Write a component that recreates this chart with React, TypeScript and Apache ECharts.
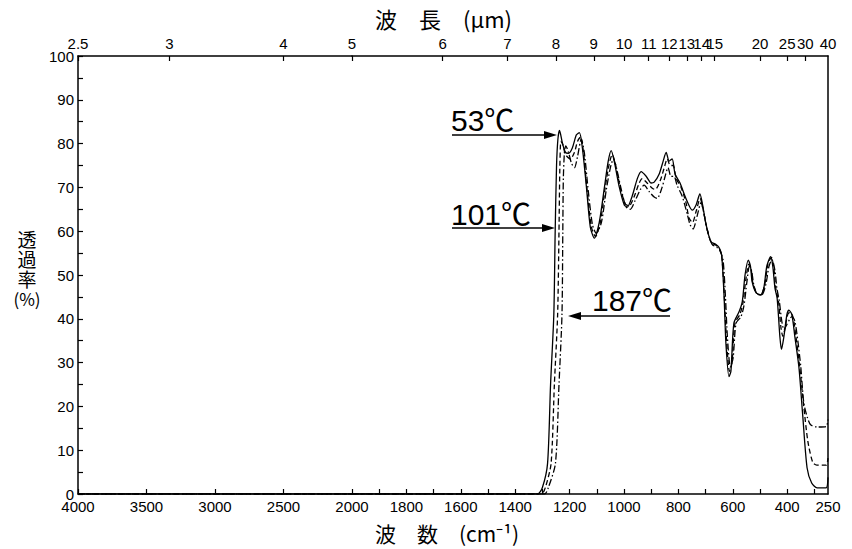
import React, { useEffect, useRef } from "react";
import * as echarts from "echarts";

// ---- data (wavenumber cm-1, transmittance %) ----
const baseWn = [4000, 2000];
const baseT = [0, 0];

const wn53 = [2000,1318,1300,1281,1270,1258,1253,1248,1243,1237,1226,1215,1204,1190,1175,1164,1153,1138,1124,1109,1091,1072,1058,1047,1036,1017,999,988,970,951,937,918,900,889,871,856,845,834,823,812,794,773,749,735,721,711,700,681,663,651,641,632,625,614,607,596,577,565,555,543,535,529,515,498,486,475,461,453,445,437,427,421,412,401,394,383,372,357,343,327,310,290,257,250];
const t53 = [0,0,1.5,7,25,41,60,75,81,83,80,78,77.8,79,82,82.5,79,70,61,58.4,62,70,76,78.4,76,70,66,65.5,68,72,73.6,72.5,71,71.2,73,76,78,76,76.5,73,71,67.6,64.8,66,68.5,66,62,57.6,57,56.3,54.5,45,34,26.8,28,39,41.6,44,50,53.4,52,48.5,46,45.4,47,52,54.2,52,47,44.7,36,33,36,41,42,41,36,29,18,6,2.5,1.4,1.4,3.8];

const wn101 = [2000,1304,1289,1268,1256,1244,1239,1236,1232,1226,1215,1197,1182,1171,1160,1149,1135,1120,1105,1087,1069,1054,1043,1032,1014,995,981,962,944,933,915,896,885,867,852,841,830,819,808,790,772,761,748,735,720,709,698,680,662,649,640,631,623,612,603,592,574,563,552,541,533,526,511,497,482,471,458,449,442,432,423,416,409,398,390,379,368,354,339,324,306,291,257,250];
const t101 = [0,0,1.5,7,25,41,60,74,80.5,80,77.5,76.5,78,80.5,81.5,78,69,61,58.8,62,70,75.5,77.5,75.5,70,66.2,65.8,68,71,72,71,69.8,69.5,71.5,74.5,76.5,75,75,72,70,66.5,63,62,64.5,67.5,65,61.5,57.5,56.8,56,54,45,35,28,30,39,41,43.5,49,52.5,51.5,48,45.8,45.5,48,52.5,54,51.5,47,44,38,36,37.5,41,41.5,40.5,36,29,20,12,7.2,6.6,6.6,8.2];

const wn187 = [2000,1292,1278,1252,1239,1228,1225,1223,1219,1214,1204,1193,1182,1171,1157,1146,1131,1116,1102,1083,1065,1050,1039,1028,1010,992,977,959,940,926,907,889,878,860,849,838,827,816,805,786,768,757,746,731,717,706,695,676,658,647,636,627,620,609,599,588,570,559,548,539,531,522,508,493,478,467,456,445,438,429,420,412,403,390,383,372,361,350,339,326,314,291,257,250];
const t187 = [0,0,1.5,7,25,41,60,72,78,79.5,78,75.5,74.5,77,81,78,69,61.5,59.5,62,69.5,74.5,76.5,74.5,69.5,65.5,65,67,69.5,70.5,69,67.8,67.5,70,72.5,74.5,72.5,72.5,70.5,68,64,61.5,60.5,63.5,66.5,64,60.5,57,56.3,55.5,53.5,45,36,29,31,39,40.5,43,48.5,52,51,47.5,45.5,45.5,48,52,53.5,51,47,44,39.5,37.5,38.5,40,40.5,39.5,35,29,20.8,17.5,15.8,15.3,15.4,17];

// ---- tick labels ----
const bottomTicksHigh = [4000, 3500, 3000, 2500, 2000];
const bottomTicksLow = [1900,1800,1700,1600,1500,1400,1300,1200,1100,1000,900,800,700,600,500,400,300];
const bottomLabelsLow = [1800,1600,1400,1200,1000,800,600,400,250];
const topLambdaHigh = [2.5, 3, 4, 5];
const topLambdaLow = [6,7,8,9,10,11,12,13,14,15,20,25,30,40];
const yTicks = [0,5,10,15,20,25,30,35,40,45,50,55,60,65,70,75,80,85,90,95,100];
const yLabels = [0,10,20,30,40,50,60,70,80,90,100];
const yTitleLines = ["透", "過", "率", "(%)"];

const zip = (a: number[], b: number[]) => a.slice(0, Math.min(a.length, b.length)).map((v, i) => [v, b[i]]);

const FONT = "Liberation Sans, Arial, Noto Sans CJK JP, sans-serif";
const CJK = "Noto Sans CJK JP, Liberation Sans, sans-serif";

export default function App() {
  const ref = useRef<HTMLDivElement>(null);
  useEffect(() => {
    const chart = echarts.init(ref.current!, null, { renderer: "svg" });
    const axisLine = { show: true, lineStyle: { color: "#000", width: 1.5 } };
    const tickStyle = { color: "#000", width: 1.2 };
    const lbl = { color: "#000", fontSize: 15, fontFamily: FONT, showMinLabel: true, showMaxLabel: true };
    const lamFmt = (v: number) => String(Math.round((10000 / v) * 10) / 10);

    const curveStyles = [
      { name: "53℃", wn: wn53, t: t53, type: "solid" as any },
      { name: "101℃", wn: wn101, t: t101, type: [5, 3] as any },
      { name: "187℃", wn: wn187, t: t187, type: [7, 2.5, 1.5, 2.5] as any },
    ];
    const series: any[] = [];
    curveStyles.forEach((c) => {
      series.push({
        name: c.name, type: "line", xAxisIndex: 0, yAxisIndex: 0, symbol: "none",
        data: zip(baseWn, baseT), lineStyle: { color: "#000", width: 1.3, type: c.type },
      });
      series.push({
        name: c.name, type: "line", xAxisIndex: 2, yAxisIndex: 1, symbol: "none", smooth: 0.25,
        data: zip(c.wn, c.t), lineStyle: { color: "#000", width: 1.3, type: c.type },
      });
    });

    const arrowR = (x1: number, x2: number, y: number) => [
      { type: "line", shape: { x1, y1: y, x2: x2 - 11, y2: y }, style: { stroke: "#000", lineWidth: 1.6 } },
      { type: "polygon", shape: { points: [[x2 - 13, y - 4], [x2, y], [x2 - 13, y + 4]] }, style: { fill: "#000" } },
    ];
    const arrowL = (x1: number, x2: number, y: number) => [
      { type: "line", shape: { x1, y1: y, x2: x2 + 11, y2: y }, style: { stroke: "#000", lineWidth: 1.6 } },
      { type: "polygon", shape: { points: [[x2 + 13, y - 4], [x2, y], [x2 + 13, y + 4]] }, style: { fill: "#000" } },
    ];
    const annText = (text: string, x: number, y: number) => ({
      type: "text", x, y,
      style: { text, fill: "#000", fontSize: 30, fontFamily: FONT, textAlign: "left", textVerticalAlign: "middle" },
    });
    const yTitle = yTitleLines.map((s, i) => ({
      type: "text", x: 27, y: 238 + i * 20,
      style: { text: s, fill: "#000", fontSize: i === 3 ? 17 : 19, fontFamily: CJK, textAlign: "center", textVerticalAlign: "middle" },
    }));

    chart.setOption({
      animation: false,
      backgroundColor: "#fff",
      grid: [
        { left: 78, right: 500, top: 56, bottom: 55, outerBoundsMode: "none" },
        { left: 352, right: 24, top: 56, bottom: 55, outerBoundsMode: "none" },
      ],
      xAxis: [
        {
          gridIndex: 0, type: "value", position: "bottom", min: 2000, max: 4000, inverse: true,
          axisLine, splitLine: { show: false },
          axisTick: { show: true, inside: true, length: 5, customValues: bottomTicksHigh, lineStyle: tickStyle },
          axisLabel: { ...lbl, margin: 5, customValues: bottomTicksHigh, formatter: (v: number) => String(v) },
        },
        {
          gridIndex: 0, type: "value", position: "top", min: 2000, max: 4000, inverse: true,
          axisLine, splitLine: { show: false },
          axisTick: { show: true, inside: true, length: 5, customValues: topLambdaHigh.map((l) => 10000 / l), lineStyle: tickStyle },
          axisLabel: { ...lbl, margin: 5, customValues: topLambdaHigh.map((l) => 10000 / l), formatter: lamFmt },
        },
        {
          gridIndex: 1, type: "value", position: "bottom", min: 250, max: 2000, inverse: true,
          axisLine, splitLine: { show: false },
          axisTick: { show: true, inside: true, length: 5, customValues: bottomTicksLow, lineStyle: tickStyle },
          axisLabel: { ...lbl, margin: 5, customValues: bottomLabelsLow, formatter: (v: number) => String(v) },
        },
        {
          gridIndex: 1, type: "value", position: "top", min: 250, max: 2000, inverse: true,
          axisLine, splitLine: { show: false },
          axisTick: { show: true, inside: true, length: 5, customValues: topLambdaLow.slice(0, -1).map((l) => 10000 / l), lineStyle: tickStyle },
          axisLabel: { ...lbl, margin: 5, customValues: topLambdaLow.map((l) => 10000 / l), formatter: lamFmt },
        },
      ],
      yAxis: [
        {
          gridIndex: 0, type: "value", position: "left", min: 0, max: 100, interval: 10,
          axisLine, splitLine: { show: false },
          axisTick: { show: true, inside: true, length: 5, customValues: yTicks, lineStyle: tickStyle },
          axisLabel: { ...lbl, margin: 4, customValues: yLabels },
        },
        {
          gridIndex: 1, type: "value", position: "right", min: 0, max: 100, interval: 10,
          axisLine, splitLine: { show: false }, axisTick: { show: false }, axisLabel: { show: false },
        },
      ],
      series,
      graphic: [
        {
          type: "text", x: 375, y: 18,
          style: { text: "波　長　(μm)", fill: "#000", fontSize: 22, fontFamily: CJK, textAlign: "left", textVerticalAlign: "middle" },
        },
        {
          type: "text", x: 375, y: 533,
          style: { text: "波　数　(cm⁻¹)", fill: "#000", fontSize: 21, fontFamily: CJK, textAlign: "left", textVerticalAlign: "middle" },
        },
        ...yTitle,
        annText("53℃", 451, 120),
        annText("101℃", 451, 214),
        annText("187℃", 592, 300),
        ...arrowR(452, 557, 135),
        ...arrowR(452, 555, 228),
        ...arrowL(670, 568, 316),
      ],
    });
    return () => chart.dispose();
  }, []);
  return (
    <div
      ref={ref}
      style={{ position: "fixed", left: 0, top: 0, width: 852, height: 549, background: "#fff" }}
    />
  );
}
